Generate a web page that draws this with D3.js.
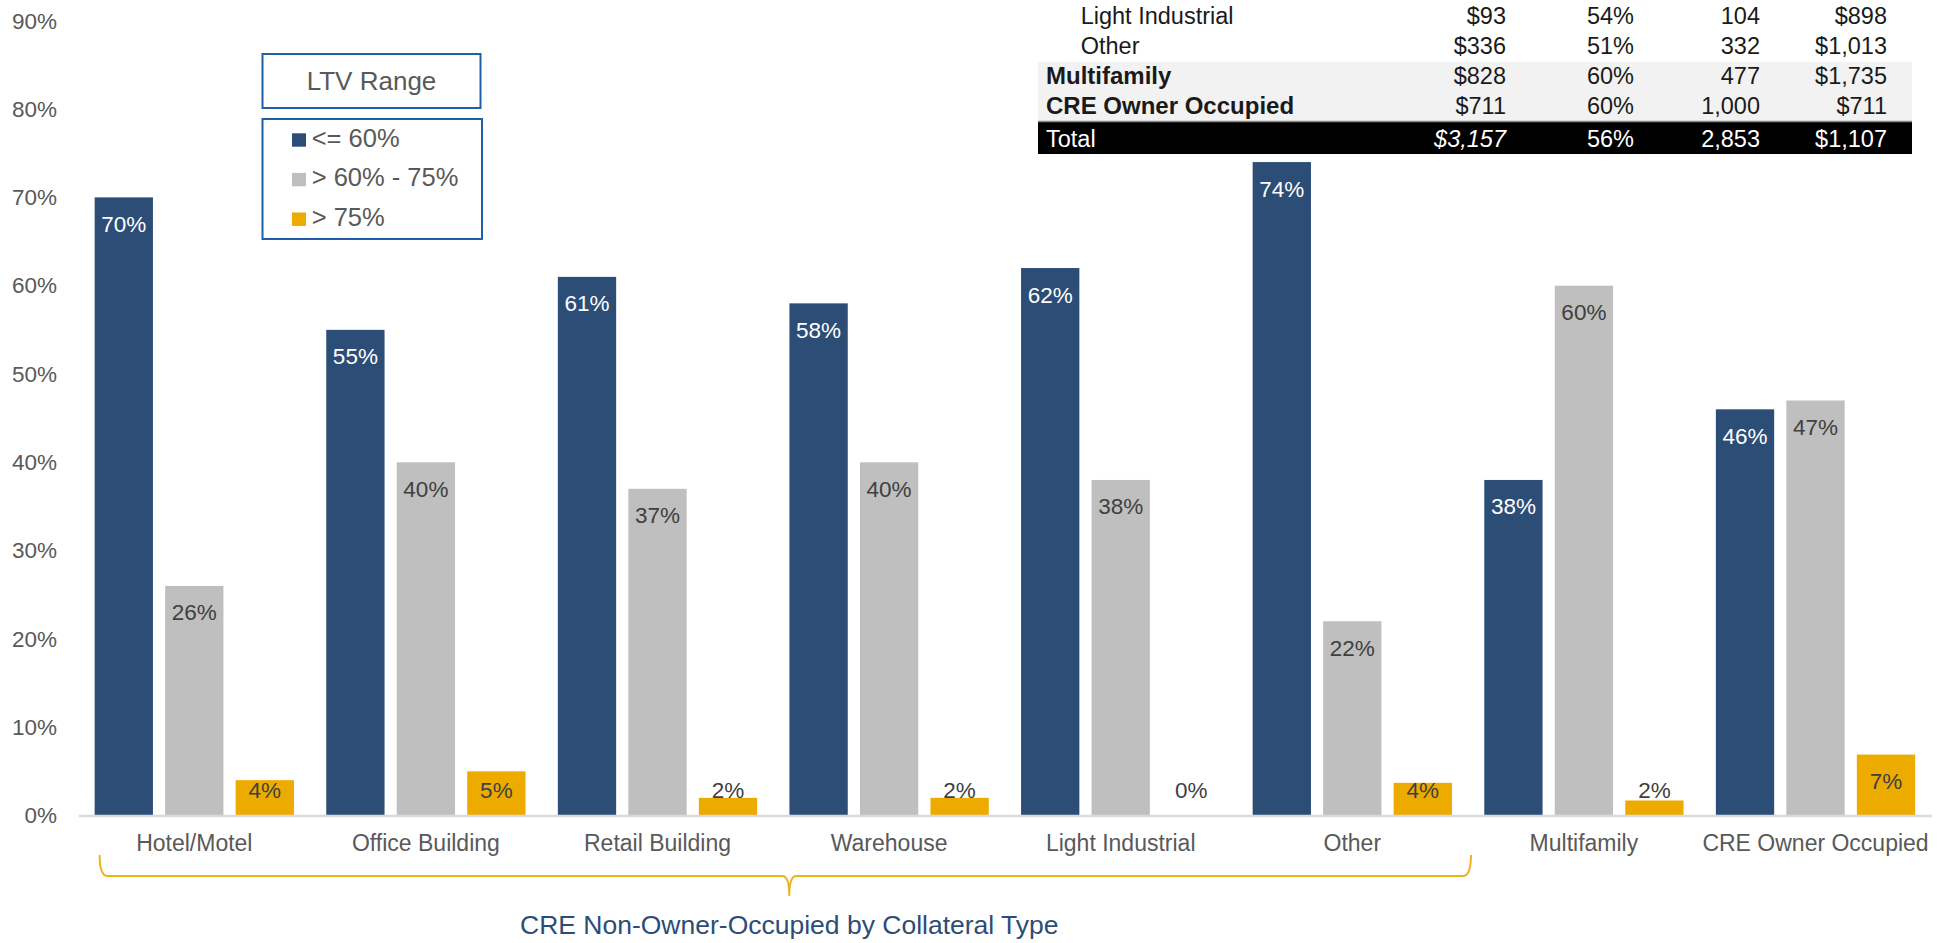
<!DOCTYPE html>
<html>
<head>
<meta charset="utf-8">
<script src="https://cdn.jsdelivr.net/npm/d3@7"></script>
<style>
    body { margin: 0; background: #fff; }
    text { font-family: "Liberation Sans", Arial, sans-serif; }
</style>
</head>
<body>
<svg id="mainSvg" width="1950" height="943"></svg>
<script>
// chart data
const categories = ["Hotel/Motel", "Office Building", "Retail Building", "Warehouse",
    "Light Industrial", "Other", "Multifamily", "CRE Owner Occupied"];
const seriesNames = ["<= 60%", "> 60% - 75%", "> 75%"];
const ltvLow = [70, 55, 61, 58, 62, 74, 38, 46];
const ltvMid = [26, 40, 37, 40, 38, 22, 60, 47];
const ltvHigh = [4.0, 5.0, 2.0, 2.0, 0, 3.7, 1.7, 6.9];
const yTicks = [0, 10, 20, 30, 40, 50, 60, 70, 80, 90];
const seriesColors = ["#2c4d75", "#bfbfbf", "#edab00"];
const labelColors = ["#ffffff", "#404040", "#404040"];

// table in the top right corner
const tableLabels = ["Light Industrial", "Other", "Multifamily", "CRE Owner Occupied", "Total"];
const tableBalance = ["$93", "$336", "$828", "$711", "$3,157"];
const tableLtv = ["54%", "51%", "60%", "60%", "56%"];
const tableCount = ["104", "332", "477", "1,000", "2,853"];
const tableAvg = ["$898", "$1,013", "$1,735", "$711", "$1,107"];

const groupTitle = "CRE Non-Owner-Occupied by Collateral Type";
const bracketCategories = categories.slice(0, 6);

let svg = d3.select('#mainSvg');
const grey = "#595959";

const data = categories.map((c, i) => ({
    category: c,
    values: [ltvLow[i], ltvMid[i], ltvHigh[i]]
}));

const y = d3.scaleLinear().domain([0, 90]).range([815.5, 20.8]);
const x0 = d3.scaleBand().domain(categories).range([78.5, 1931.3])
    .paddingInner(0.1395).paddingOuter(0.0697);
const x1 = d3.scaleBand().domain(d3.range(3)).range([0, x0.bandwidth()])
    .paddingInner(0.173).paddingOuter(0);

/**
 * 柱子 + 数据标签
 */
const groups = svg.selectAll("g.group").data(data).join("g")
    .attr("class", "group")
    .attr("transform", d => `translate(${x0(d.category)},0)`);

groups.selectAll("rect").data(d => d.values).join("rect")
    .attr("x", (v, i) => x1(i))
    .attr("y", v => y(v))
    .attr("width", x1.bandwidth())
    .attr("height", v => y(0) - y(v))
    .attr("fill", (v, i) => seriesColors[i]);

groups.selectAll("text").data(d => d.values).join("text")
    .text(v => Math.round(v) + "%")
    .attr("x", (v, i) => x1(i) + x1.bandwidth() / 2)
    .attr("y", v => Math.min(y(v) + 34.5, y(0) - 17.5))
    .attr("text-anchor", "middle")
    .attr("font-size", "22.5px")
    .attr("fill", (v, i) => labelColors[i]);

// y axis
const yAxis = svg.append("g")
    .attr("transform", "translate(78,0)")
    .call(d3.axisLeft(y).tickValues(yTicks).tickFormat(d => d + "%").tickSize(0).tickPadding(21));
yAxis.select(".domain").remove();
yAxis.selectAll("text").attr("font-size", "22.5px").attr("fill", grey)
    .style("font-family", "'Liberation Sans', Arial, sans-serif");

// x axis
const xAxis = svg.append("g")
    .attr("transform", `translate(0,${y(0)})`)
    .call(d3.axisBottom(x0).tickSize(0).tickSizeOuter(0).tickPadding(19));
xAxis.select(".domain").attr("stroke", "#d9d9d9").attr("stroke-width", 2.5);
xAxis.selectAll("text").attr("font-size", "23px").attr("fill", grey)
    .style("font-family", "'Liberation Sans', Arial, sans-serif");

/**
 * 大括号 + 分组标题
 */
const bl = x0(bracketCategories[0]) + 5;
const br = x0(bracketCategories[bracketCategories.length - 1]) + x0.bandwidth() + 19;
const bm = (bl + br) / 2 + 4;
const bTop = 855, bLine = 876, bTip = 896;
svg.append("path")
    .attr("d", `M${bl},${bTop} Q${bl},${bLine} ${bl + 8},${bLine} L${bm - 7},${bLine}
        Q${bm},${bLine} ${bm},${bTip} Q${bm},${bLine} ${bm + 7},${bLine}
        L${br - 8},${bLine} Q${br},${bLine} ${br},${bTop}`)
    .attr("fill", "none")
    .attr("stroke", "#efb21a")
    .attr("stroke-width", 2);

svg.append("text")
    .text(groupTitle)
    .attr("x", bm)
    .attr("y", 934)
    .attr("text-anchor", "middle")
    .attr("font-size", "26.5px")
    .attr("fill", "#2c4d75");

/**
 * 图例
 */
const legendBlue = "#1f5ea8";
svg.append("rect")
    .attr("x", 262.5).attr("y", 54).attr("width", 218).attr("height", 54)
    .attr("fill", "#fff").attr("stroke", legendBlue).attr("stroke-width", 2);
svg.append("text")
    .text("LTV Range")
    .attr("x", 371.5).attr("y", 90)
    .attr("text-anchor", "middle")
    .attr("font-size", "26px")
    .attr("fill", grey);
svg.append("rect")
    .attr("x", 262.5).attr("y", 119).attr("width", 219.5).attr("height", 120)
    .attr("fill", "#fff").attr("stroke", legendBlue).attr("stroke-width", 2);

const legendItems = svg.selectAll("g.legendItem").data(seriesNames).join("g")
    .attr("class", "legendItem")
    .attr("transform", (d, i) => `translate(292,${133.3 + i * 39.6})`);
legendItems.append("rect")
    .attr("width", 14).attr("height", 13.4)
    .attr("fill", (d, i) => seriesColors[i]);
legendItems.append("text")
    .text(d => d)
    .attr("x", 19.7).attr("y", 13.4)
    .attr("font-size", "25.5px")
    .attr("fill", grey);

/**
 * 右上角表格
 */
const tableLeft = 1038, tableRight = 1912;
const rowBase = [24, 54, 84, 114, 146.7];
const colRight = [1506, 1634, 1760, 1887];

svg.append("rect")
    .attr("x", tableLeft).attr("y", 61.7)
    .attr("width", tableRight - tableLeft).attr("height", 60)
    .attr("fill", "#f2f2f2");
svg.append("rect")
    .attr("x", tableLeft).attr("y", 122)
    .attr("width", tableRight - tableLeft).attr("height", 32)
    .attr("fill", "#000");
svg.append("line")
    .attr("x1", tableLeft).attr("x2", tableRight)
    .attr("y1", 121.5).attr("y2", 121.5)
    .attr("stroke", "#8a8a8a").attr("stroke-width", 1.5);

const tableRows = tableLabels.map((label, i) => ({
    label: label,
    cells: [tableBalance[i], tableLtv[i], tableCount[i], tableAvg[i]],
    indent: i < 2,
    bold: i === 2 || i === 3,
    total: i === tableLabels.length - 1
}));

const rowG = svg.selectAll("g.tableRow").data(tableRows).join("g")
    .attr("class", "tableRow")
    .attr("transform", (d, i) => `translate(0,${rowBase[i]})`);

rowG.append("text")
    .text(d => d.label)
    .attr("x", d => d.indent ? 1080.7 : 1046)
    .attr("font-size", d => d.bold ? "24px" : "23.5px")
    .attr("font-weight", d => d.bold ? "bold" : "normal")
    .attr("fill", d => d.total ? "#fff" : "#1a1a1a");

rowG.selectAll("text.cell").data(d => d.cells.map((c, j) => ({text: c, col: j, total: d.total})))
    .join("text")
    .attr("class", "cell")
    .text(d => d.text)
    .attr("x", d => colRight[d.col])
    .attr("text-anchor", "end")
    .attr("font-size", "23.5px")
    .attr("font-style", d => d.total && d.col === 0 ? "italic" : "normal")
    .attr("fill", d => d.total ? "#fff" : "#1a1a1a");
</script>
</body>
</html>
